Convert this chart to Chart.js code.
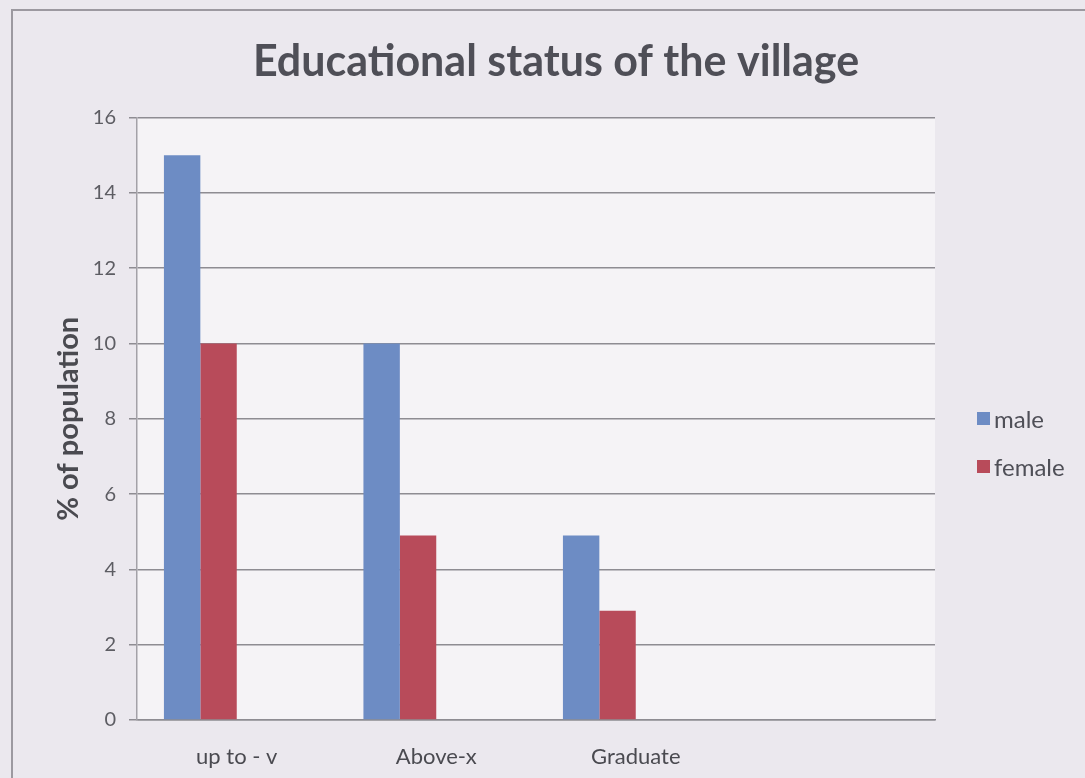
<!DOCTYPE html>
<html>
<head>
<meta charset="utf-8">
<script src="https://cdn.jsdelivr.net/npm/chart.js@4.4.1/dist/chart.umd.min.js"></script>
<style>
    html, body { margin: 0; padding: 0; background: #ebe8ee; }
    #wrap { position: relative; width: 1085px; height: 778px; overflow: hidden; }
    #frame { position: absolute; left: 11px; top: 9px; width: 1200px; height: 1000px; border: 2px solid #9c99a0; box-sizing: border-box; }
    #chart { position: absolute; left: 0; top: 0; }
    #legend { position: absolute; left: 977px; top: 394px; font-family: Lato, sans-serif; font-size: 24px; color: #4f4f57; }
    .legend-item { display: flex; align-items: center; height: 48px; }
    .swatch { width: 13px; height: 13px; margin-right: 4px; }
</style>
</head>
<body>
<div id="wrap">
    <div id="frame"></div>
    <canvas id="chart" width="1085" height="778"></canvas>
    <div id="legend"></div>
</div>
<script>
// Data
const categories = ['up to - v', 'Above-x', 'Graduate', ''];
const maleValues = [15, 10, 4.9, null];
const femaleValues = [10, 4.9, 2.9, null];
const emptySeries = [null, null, null, null];   // two blank series in the original sheet
const seriesNames = ['male', 'female'];
const seriesColors = ['#6d8cc4', '#b84b5a'];
const yMin = 0, yMax = 16, yStep = 2;

const fontFamily = "Lato, 'Open Sans', sans-serif";
const textColor = '#4f4f57';
const gridColor = '#8e8c92';

Chart.defaults.font.family = fontFamily;
Chart.defaults.color = textColor;

// light plot area behind the bars
const plotBackground = {
    id: 'plotBackground',
    beforeDraw(chart) {
        const { ctx, chartArea: a } = chart;
        ctx.save();
        ctx.fillStyle = '#f5f3f6';
        ctx.fillRect(a.left, a.top, a.right - a.left, a.bottom - a.top);
        ctx.restore();
    }
};

const chart = new Chart(document.getElementById('chart').getContext('2d'), {
    type: 'bar',
    data: {
        labels: categories,
        datasets: [
            { label: seriesNames[0], data: maleValues, backgroundColor: seriesColors[0] },
            { label: seriesNames[1], data: femaleValues, backgroundColor: seriesColors[1] },
            { label: '', data: emptySeries },
            { label: '', data: emptySeries }
        ]
    },
    options: {
        responsive: false,
        animation: false,
        categoryPercentage: 0.73,
        barPercentage: 1.0,
        layout: { padding: { left: 27, right: 0, top: 0, bottom: 0 } },
        plugins: {
            legend: { display: false },
            tooltip: { enabled: false },
            title: {
                display: true,
                text: 'Educational status of the village',
                color: textColor,
                font: { size: 43, weight: 'bold', lineHeight: 1.2 },
                padding: { top: 36, bottom: 30 }
            }
        },
        scales: {
            x: {
                grid: { display: false, drawTicks: false },
                border: { display: true, color: gridColor, width: 1.5 },
                ticks: { color: '#4a4a50', font: { size: 22 }, padding: 24 },
                afterFit: s => { s.height = 58; }
            },
            y: {
                min: yMin,
                max: yMax,
                ticks: { stepSize: yStep, color: '#5d5d63', font: { size: 20 }, padding: 13 },
                grid: { color: gridColor, lineWidth: 1.5, tickLength: 8 },
                border: { color: '#a3a1a7', width: 1.5 },
                title: {
                    display: true,
                    text: '% of population',
                    color: '#4a4a50',
                    font: { size: 29, weight: 'bold' },
                    padding: { top: 24, bottom: 0 }
                },
                afterFit: s => { s.width = 110; }
            },
            // empty room on the right where the legend sits
            legendRoom: {
                type: 'linear',
                axis: 'y',
                position: 'right',
                grid: { display: false },
                border: { display: false },
                ticks: { display: false },
                afterFit: s => { s.width = 150; }
            }
        }
    },
    plugins: [plotBackground]
});

// legend built from the same series arrays
const legendEl = document.getElementById('legend');
seriesNames.forEach((name, i) => {
    const item = document.createElement('div');
    item.className = 'legend-item';
    item.innerHTML = `<span class="swatch" style="background:${seriesColors[i]}"></span><span>${name}</span>`;
    legendEl.appendChild(item);
});
</script>
</body>
</html>
